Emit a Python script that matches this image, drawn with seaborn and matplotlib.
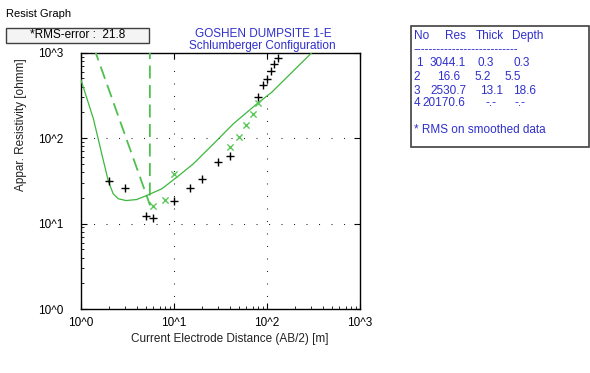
import matplotlib
matplotlib.use("Agg")
import matplotlib.pyplot as plt
from matplotlib.patches import Rectangle
from matplotlib.ticker import FixedLocator, LogLocator, NullFormatter
import pandas as pd
import seaborn as sns

# Observed apparent resistivity, Schlumberger sounding
ab2_obs = [2, 3, 5, 6, 10, 15, 20, 30, 40, 80, 90, 100, 110, 120, 130]
rho_obs = [31.2, 26.4, 12.4, 11.7, 18.3, 26.2, 33.3, 52.7, 61.2, 300, 417, 492, 616, 730, 862]

# Smoothed data points
ab2_smooth = [6, 8, 10, 40, 50, 60, 70, 80]
rho_smooth = [16.2, 18.9, 38.5, 79.6, 104, 143, 192, 260]

# Computed response of the layered model
ab2_fit = [1.0, 1.36, 1.74, 1.97, 2.22, 2.52, 3.05, 3.97, 5.29, 7.38, 10.7, 16.1, 26.5, 43.4, 77.5, 112, 303]
rho_fit = [480, 168, 54.6, 31.2, 22.3, 19.5, 18.6, 19.1, 21.7, 25.5, 34.8, 49.9, 85.5, 147, 251, 343, 1000]

# Layered earth model
layer_no = [1, 2, 3, 4]
layer_res = [3044.1, 16.6, 2530.7, 20170.6]
layer_thick = [0.3, 5.2, 13.1]
layer_depth = [0.3, 5.5, 18.6]

rms_error = 21.8
axis_ticks = [1, 10, 100, 1000]
axis_tick_labels = ["10^0", "10^1", "10^2", "10^3"]

W, H = 590, 373
BLUE = "#2f2fcc"

sns.set_style("white")
plt.rcParams["font.family"] = ["Liberation Sans", "DejaVu Sans"]
plt.rcParams["font.size"] = 8.5


def fx(px):
    return px / W


def fy(py):
    return 1 - py / H


fig = plt.figure(figsize=(W / 100, H / 100), dpi=100)
fig.patch.set_facecolor("white")
ax = fig.add_axes([fx(81), fy(309), fx(360) - fx(81), fy(52.7) - fy(309)])

# model profile drawn from the left edge of the plot
x_min = axis_ticks[0]
model_df = pd.DataFrame({
    "x": [x_min, layer_depth[1], layer_depth[1], layer_depth[2], layer_depth[2]],
    "rho": [layer_res[0], layer_res[1], layer_res[2], layer_res[2], layer_res[3]],
})
fit_df = pd.DataFrame({"x": ab2_fit, "rho": rho_fit})
obs_df = pd.DataFrame({"x": ab2_obs, "rho": rho_obs})
smooth_df = pd.DataFrame({"x": ab2_smooth, "rho": rho_smooth})

sns.lineplot(data=model_df, x="x", y="rho", sort=False, estimator=None, ax=ax,
             color="#4fc04f", linewidth=1.3, linestyle=(0, (7.2, 3.6)), zorder=3)
sns.lineplot(data=fit_df, x="x", y="rho", sort=False, estimator=None, ax=ax,
             color="#3cb83c", linewidth=0.9, zorder=4)
sns.scatterplot(data=smooth_df, x="x", y="rho", ax=ax, marker="x", s=20,
                color="#5cc85c", linewidth=1.0, zorder=5)
sns.scatterplot(data=obs_df, x="x", y="rho", ax=ax, marker="+", s=36,
                color="black", linewidth=1.0, zorder=6)

ax.set_xscale("log")
ax.set_yscale("log")
ax.set_xlim(axis_ticks[0], axis_ticks[-1])
ax.set_ylim(axis_ticks[0], axis_ticks[-1])
ax.set_xlabel("")
ax.set_ylabel("")

for axis in (ax.xaxis, ax.yaxis):
    axis.set_major_locator(FixedLocator(axis_ticks))
    axis.set_minor_locator(LogLocator(base=10, subs=range(2, 10)))
    axis.set_minor_formatter(NullFormatter())
ax.set_xticklabels(axis_tick_labels)
ax.set_yticklabels(axis_tick_labels)

for s in ax.spines.values():
    s.set_visible(True)
    s.set_color("black")
    s.set_linewidth(1.0)

ax.tick_params(which="major", direction="in", length=4, width=0.8,
               top=True, right=True, bottom=True, left=True, labelsize=8.5, colors="black")
ax.tick_params(axis="x", which="major", pad=6)
ax.tick_params(axis="y", which="major", pad=13)
ax.tick_params(which="minor", direction="in", length=2.2, width=0.7,
               bottom=True, left=True, top=False, right=False)

for v in axis_ticks[1:-1]:
    ax.axvline(v, color="#222222", linewidth=0.75, linestyle=(0, (1, 11)), zorder=1)
    ax.axhline(v, color="#222222", linewidth=0.75, linestyle=(0, (1, 11)), zorder=1)

# axis titles
fig.text(fx(230), fy(339), "Current Electrode Distance (AB/2) [m]", ha="center", va="center",
         fontsize=8.5, color="#222222")
fig.text(fx(21), fy(125), "Appar. Resistivity [ohmm]", ha="center", va="center",
         rotation=90, fontsize=8.5, color="#222222")

# window caption
fig.text(fx(6), fy(14), "Resist Graph", ha="left", va="center", fontsize=8, color="black")

# RMS box
fig.patches.append(Rectangle((fx(6), fy(43)), fx(149) - fx(6), fy(28) - fy(43),
                             transform=fig.transFigure, facecolor="#f4f4f4",
                             edgecolor="#404040", linewidth=1.0, zorder=10))
fig.text(fx(78), fy(35.5), f"*RMS-error :  {rms_error}", ha="center", va="center",
         fontsize=8.5, color="black", zorder=11)

# plot heading
fig.text(fx(263), fy(34), "GOSHEN DUMPSITE 1-E", ha="center", va="center", fontsize=8.5, color=BLUE)
fig.text(fx(262), fy(46.5), "Schlumberger Configuration", ha="center", va="center",
         fontsize=8.5, color=BLUE)

# layer table
fig.patches.append(Rectangle((fx(411), fy(147)), fx(589) - fx(411), fy(26) - fy(147),
                             transform=fig.transFigure, facecolor="white",
                             edgecolor="#404040", linewidth=1.2, zorder=10))
header = ["No", "Res", "Thick", "Depth"]
header_x = [414, 445.5, 476, 512]
for t, x in zip(header, header_x):
    fig.text(fx(x), fy(36), t, ha="left", va="center", fontsize=8.5, color=BLUE, zorder=11)
fig.text(fx(414), fy(50.5), "-" * 27, ha="left", va="center", fontsize=8.5, color=BLUE, zorder=11)

row_y = [63.3, 77.3, 90.7, 103.3]
cell_x = [
    [416.5, 430, 478, 513],
    [413.5, 437.5, 474, 504],
    [413.5, 430, 480.5, 513],
    [413.5, 422.5, 485.5, 514.5],
]
for i, n in enumerate(layer_no):
    thick = f"{layer_thick[i]:.1f}" if i < len(layer_thick) else "-.-"
    depth = f"{layer_depth[i]:.1f}" if i < len(layer_depth) else "-.-"
    cells = [str(n), f"{layer_res[i]:.1f}", thick, depth]
    for t, x in zip(cells, cell_x[i]):
        fig.text(fx(x), fy(row_y[i]), t, ha="left", va="center", fontsize=8.5,
                 color=BLUE, zorder=11)
fig.text(fx(414.5), fy(130), "* RMS on smoothed data", ha="left", va="center",
         fontsize=8.5, color=BLUE, zorder=11)

fig.savefig("out.png", dpi=100, facecolor="white")
